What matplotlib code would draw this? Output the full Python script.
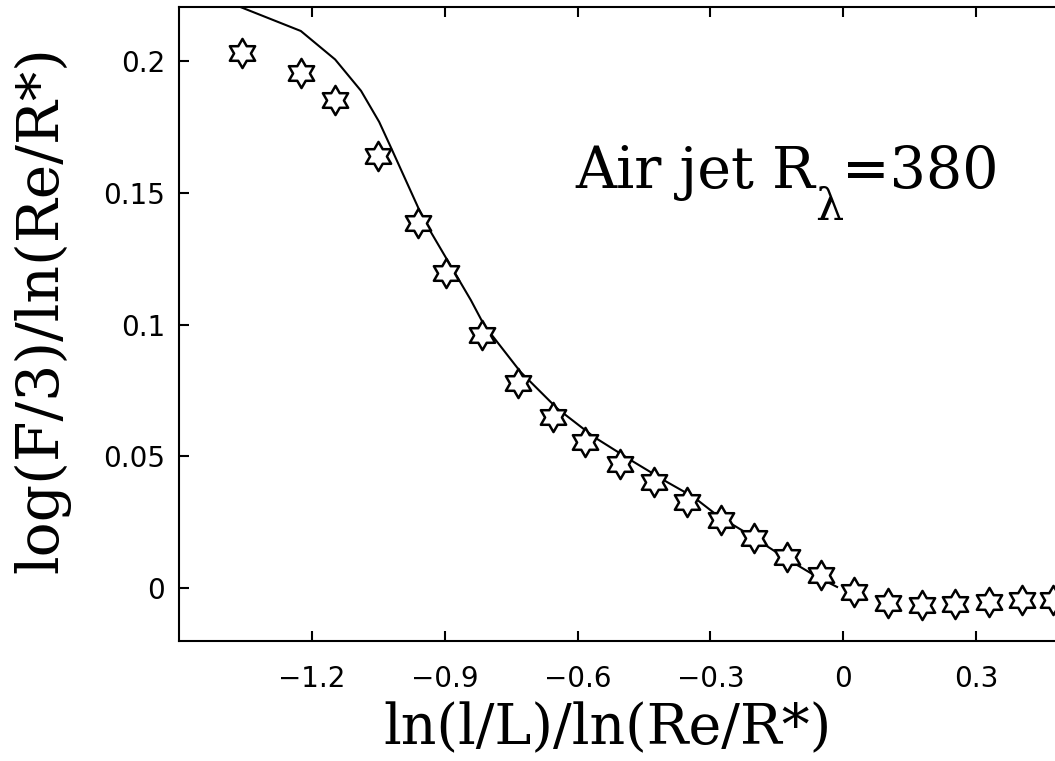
import numpy as np
import matplotlib
matplotlib.use('Agg')
import matplotlib.pyplot as plt
from matplotlib.path import Path

# measured points (stars)
x_data = [-1.358, -1.225, -1.1475, -1.050, -0.960, -0.898, -0.815, -0.735,
          -0.656, -0.584, -0.505, -0.428, -0.352, -0.277, -0.201, -0.126,
          -0.050, 0.025, 0.102, 0.178, 0.253, 0.329, 0.404, 0.474]
y_data = [0.2032, 0.1956, 0.1851, 0.1639, 0.1384, 0.1196, 0.0960, 0.0777,
          0.0650, 0.0555, 0.0473, 0.0403, 0.0326, 0.0258, 0.0190, 0.0118,
          0.0049, -0.0015, -0.0057, -0.0064, -0.0061, -0.0053, -0.0046, -0.0046]

# model curve
x_model = [-1.360, -1.225, -1.1475, -1.089, -1.048, -1.022, -0.947, -0.841,
           -0.811, -0.729, -0.646, -0.563, -0.473, -0.398, -0.338, -0.285,
           -0.210, -0.135, -0.059, -0.014]
y_model = [0.2204, 0.2114, 0.2006, 0.1887, 0.1769, 0.1674, 0.1396, 0.1093,
           0.0998, 0.0821, 0.0682, 0.0574, 0.0479, 0.0403, 0.0346, 0.0277,
           0.0201, 0.0119, 0.0043, 0.0005]

x_ticks = [-1.2, -0.9, -0.6, -0.3, 0, 0.3]
x_ticklabels = ['\u22121.2', '\u22120.9', '\u22120.6', '\u22120.3', '0', '0.3']
y_ticks = [0, 0.05, 0.1, 0.15, 0.2]
y_ticklabels = ['0', '0.05', '0.1', '0.15', '0.2']


def hexagram():
    # six pointed star, points up and down
    verts = []
    for k in range(6):
        a = np.deg2rad(90 + 60 * k)
        verts.append((np.cos(a), np.sin(a)))
        b = np.deg2rad(120 + 60 * k)
        r = 1 / np.sqrt(3)
        verts.append((r * np.cos(b), r * np.sin(b)))
    verts.append(verts[0])
    codes = [Path.MOVETO] + [Path.LINETO] * 11 + [Path.CLOSEPOLY]
    return Path(verts, codes)


def plot():
    fig = plt.figure(figsize=(10.55, 7.61), dpi=100)
    ax = fig.add_axes([0.1697, 0.1577, 1.0092 - 0.1697, 0.9908 - 0.1577])

    ax.plot(x_model, y_model, color='k', lw=1.5)
    ax.plot(x_data, y_data, ls='none', marker=hexagram(), ms=21,
            mfc='white', mec='k', mew=1.8)

    ax.set_xlim(-1.5, 0.5)
    ax.set_ylim(-0.02, 0.2205)
    ax.set_xticks(x_ticks)
    ax.set_xticklabels(x_ticklabels, family='DejaVu Sans', fontsize=20)
    ax.set_yticks(y_ticks)
    ax.set_yticklabels(y_ticklabels, family='DejaVu Sans', fontsize=20)
    ax.tick_params(direction='in', length=7, width=1.5, top=True, right=True)
    ax.tick_params(axis='x', pad=17)
    ax.tick_params(axis='y', pad=10)
    for s in ax.spines.values():
        s.set_linewidth(1.5)

    ax.set_xlabel('ln(l/L)/ln(Re/R*)', family='DejaVu Serif', fontsize=40)
    ax.xaxis.set_label_coords(0.484, -0.096)
    ax.set_ylabel('log(F/3)/ln(Re/R*)', family='DejaVu Serif', fontsize=42)
    ax.yaxis.set_label_coords(-0.123, 0.522)

    # annotation, subscript lambda placed by hand
    ax.text(-0.605, 0.1517, 'Air jet R', family='DejaVu Serif', fontsize=41,
            va='baseline')
    ax.text(-0.064, 0.1396, '\u03bb', family='DejaVu Serif', fontsize=32,
            va='baseline')
    ax.text(-0.003, 0.1517, '=380', family='DejaVu Serif', fontsize=41,
            va='baseline')

    fig.savefig('out.png', dpi=100)


if __name__ == '__main__':
    plot()
